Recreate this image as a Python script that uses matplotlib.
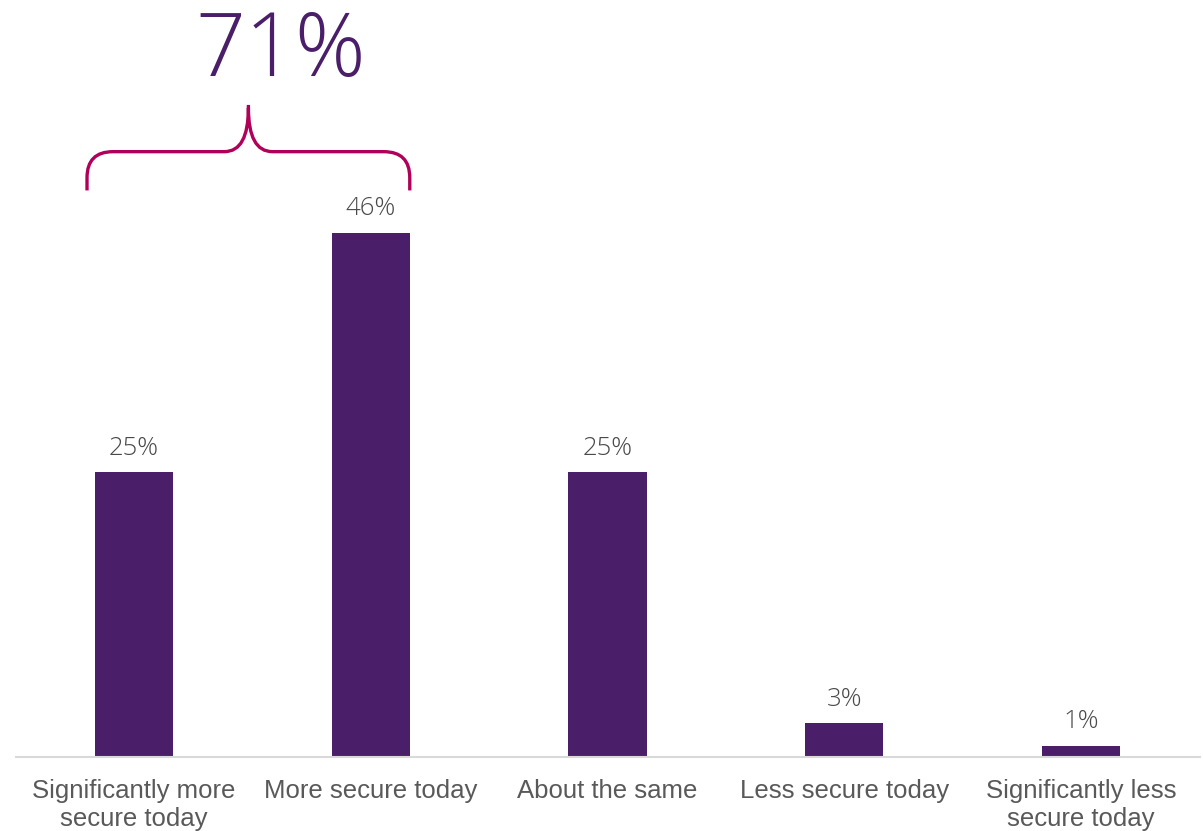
import matplotlib
matplotlib.use("Agg")
import matplotlib.pyplot as plt
from matplotlib.path import Path
from matplotlib.patches import PathPatch

categories = ["Significantly more\nsecure today", "More secure today",
              "About the same", "Less secure today",
              "Significantly less\nsecure today"]
values = [25, 46, 25, 3, 1]
bracket_total = "71%"

BAR = "#4A1E68"
GREY = "#595959"
VALUE_GREY = "#4A4A4A"
BRACE = "#B0005A"
LIGHT_FONT = ["Open Sans", "Liberation Sans", "DejaVu Sans"]

plt.rcParams["font.family"] = ["Liberation Sans", "DejaVu Sans"]

W, H = 1203, 831
fig = plt.figure(figsize=(W / 100, H / 100), dpi=100)
ax = fig.add_axes([15.5 / W, 74 / H, 1184 / W, 570 / H])

x = list(range(len(categories)))
bars = ax.bar(x, values, width=0.33, color=BAR, zorder=2)
ax.set_xlim(-0.5, len(categories) - 0.5)
ax.set_ylim(0, 50)

for rect, v in zip(bars, values):
    ax.annotate(f"{v}%", (rect.get_x() + rect.get_width() / 2, rect.get_height()),
                xytext=(0, 8), textcoords="offset points",
                ha="center", va="bottom", fontsize=18.5, color=VALUE_GREY,
                family=LIGHT_FONT, fontweight="light")

ax.set_xticks(x)
ax.set_xticklabels(categories, fontsize=18.5, color=GREY, linespacing=1.22)
ax.tick_params(axis="x", length=0, pad=16)
ax.set_yticks([])
for side in ["left", "right", "top"]:
    ax.spines[side].set_visible(False)
ax.spines["bottom"].set_color("#D9D9D9")
ax.spines["bottom"].set_linewidth(1.5)

# curly brace spanning the first two bars
px_x = 1184 / 5      # pixels per category unit
px_y = 570 / 50      # pixels per percent
x0, x1 = -0.198, 1.165
xm = (x0 + x1) / 2
ybot, yh, ypk = 49.7, 53.1, 57.2
rx, ry = 26 / px_x, 26 / px_y
mx, my = 24 / px_x, 3 / px_y
verts = [
    (x0, ybot), (x0, yh - ry),
    (x0, yh), (x0 + rx, yh),
    (xm - mx, yh),
    (xm, yh), (xm, ypk - my),
    (xm, ypk),
    (xm, ypk - my),
    (xm, yh), (xm + mx, yh),
    (x1 - rx, yh),
    (x1, yh), (x1, yh - ry),
    (x1, ybot),
]
codes = [Path.MOVETO, Path.LINETO,
         Path.CURVE3, Path.CURVE3,
         Path.LINETO,
         Path.CURVE3, Path.CURVE3,
         Path.LINETO,
         Path.MOVETO,
         Path.CURVE3, Path.CURVE3,
         Path.LINETO,
         Path.CURVE3, Path.CURVE3,
         Path.LINETO]
ax.add_patch(PathPatch(Path(verts, codes), facecolor="none", edgecolor=BRACE,
                       linewidth=2.4, capstyle="butt", clip_on=False))

ax.text(xm + 0.135, 61.75, bracket_total, ha="center", va="center",
        fontsize=63, color=BAR, family=LIGHT_FONT,
        fontweight="light", clip_on=False)

fig.savefig("out.png", dpi=100, facecolor="white")
